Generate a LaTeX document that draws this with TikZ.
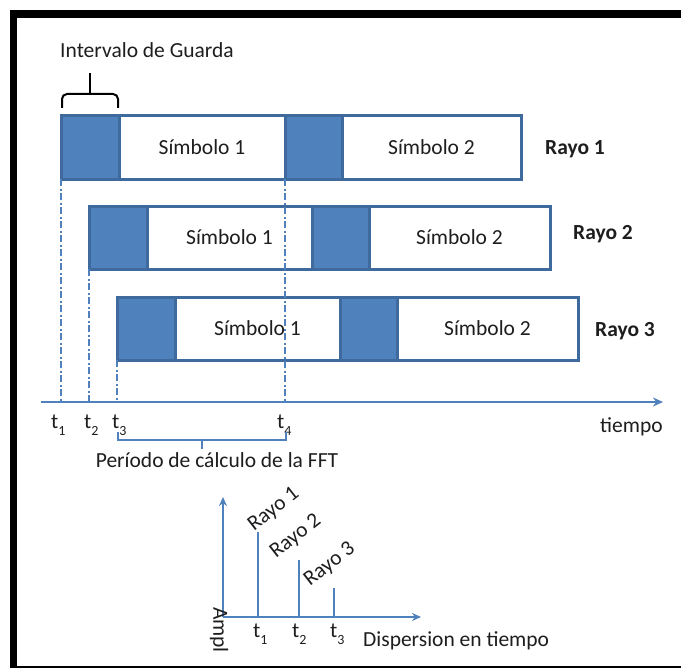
\documentclass[tikz,border=0pt]{standalone}
\usepackage{fontspec}
\setmainfont{Carlito}
\usetikzlibrary{arrows.meta}
\definecolor{fillblue}{HTML}{4F81BD}
\definecolor{edgeblue}{HTML}{3F6A9E}
\definecolor{lineblue}{HTML}{4F81BD}
\definecolor{ink}{HTML}{1E1E1E}
% time label with a lowered index digit
\newcommand{\tsub}[1]{t\raisebox{-7pt}{\fontsize{14}{14}\selectfont #1}}

\begin{document}
\begin{tikzpicture}[x=1pt,y=-1pt,
  font=\fontsize{21.5}{24}\selectfont, text=ink,
  cell/.style={draw=edgeblue, line width=3pt, minimum height=63pt,
    inner sep=0pt, outer sep=0pt, anchor=north west},
  guard/.style={cell, fill=fillblue},
  sym/.style={cell, fill=white},
  ray/.style={font=\fontsize{21.5}{24}\selectfont\bfseries, anchor=base west, inner sep=0pt},
  lbl/.style={anchor=base west, inner sep=0pt},
  tickline/.style={lineblue, line width=2pt,
    dash pattern=on 7pt off 2.5pt on 2pt off 2.5pt},
  axis/.style={lineblue, line width=1.6pt, -{Stealth[length=10pt,width=9pt]}},
  smallaxis/.style={lineblue, line width=2pt, -{Stealth[length=9pt,width=8pt]}},
  spike/.style={lineblue, line width=2pt},
]
% page and frame
\fill[white] (0,0) rectangle (681,669);
\useasboundingbox (0,0) rectangle (681,669);
\fill[black] (10,10.5) rectangle (681,18.5);
\fill[black] (10,10.5) rectangle (17,668);
\fill[black] (10,665.5) rectangle (681,668);

% ray 1
\node[guard, minimum width=58pt] (g11) at (61,116) {};
\node[sym, minimum width=166pt] (s11) at (g11.north east) {Símbolo 1};
\node[guard, minimum width=57pt] (g12) at (s11.north east) {};
\node[sym, minimum width=179pt] (s12) at (g12.north east) {Símbolo 2};
\node[ray] (r1) at (545,154) {Rayo 1};

% ray 2
\node[guard, minimum width=58pt] (g21) at (89,206) {};
\node[sym, minimum width=165pt] (s21) at (g21.north east) {Símbolo 1};
\node[guard, minimum width=57pt] (g22) at (s21.north east) {};
\node[sym, minimum width=181pt] (s22) at (g22.north east) {Símbolo 2};
\node[ray] (r2) at (573,239) {Rayo 2};

% ray 3
\node[guard, minimum width=58pt] (g31) at (117,297) {};
\node[sym, minimum width=165pt] (s31) at (g31.north east) {Símbolo 1};
\node[guard, minimum width=57pt] (g32) at (s31.north east) {};
\node[sym, minimum width=181pt] (s32) at (g32.north east) {Símbolo 2};
\node[ray] (r3) at (595,336) {Rayo 3};

% time axis
\coordinate (a0) at (41,402);
\coordinate (a1) at (663,402);
\coordinate (t1) at (61,402);
\coordinate (t2) at (89,402);
\coordinate (t3) at (117,402);
\coordinate (t4) at (285,402);
\draw[axis] (a0) -- (a1);
\node[lbl] (tiempo) at (600,432) {tiempo};

% instants
\draw[tickline, line width=1.6pt] (g11.south west) -- (t1);
\draw[tickline, line width=1.6pt] (g21.south west) -- (t2);
\draw[tickline, line width=2.5pt] (g31.south west) -- (t3);
\draw[tickline, line width=2.5pt] (g12.south west) -- (t4);
\node[lbl] (lt1) at (51,428) {\tsub{1}};
\node[lbl] (lt2) at (84,428) {\tsub{2}};
\node[lbl] (lt3) at (112,428) {\tsub{3}};
\node[lbl] (lt4) at (277,428) {\tsub{4}};

% FFT window
\coordinate (b0) at (118,432);
\coordinate (b1) at (286,432);
\coordinate (bm) at (202,440);
\coordinate (bt) at (202,449);
\draw[lineblue, line width=1.6pt] (b0) -- ++(0,8) -| (b1);
\draw[lineblue, line width=1.6pt] (bm) -- (bt);
\node[anchor=base, inner sep=0pt] (fft) at (217,467) {Período de cálculo de la FFT};

% guard interval brace
\coordinate (c0) at (62,108);
\coordinate (c1) at (118,108);
\coordinate (cm) at (90,94);
\coordinate (ct) at (90,73);
\draw[black, line width=2pt, rounded corners=5pt] (c0) |- (cm) -| (c1);
\draw[black, line width=2pt] (cm) -- (ct);
\node[anchor=base, inner sep=0pt] (gi) at (147,58) {Intervalo de Guarda};

% delay spread chart
\coordinate (o) at (223,617);
\coordinate (vy) at (223,497);
\coordinate (vx) at (421,617);
\draw[smallaxis] (o) -- (vy);
\draw[smallaxis] (o) -- (vx);
\coordinate (q1) at (258,617); \coordinate (p1) at (258,532);
\coordinate (q2) at (299,617); \coordinate (p2) at (299,560);
\coordinate (q3) at (334,617); \coordinate (p3) at (334,588);
\draw[spike] (q1) -- (p1);
\draw[spike] (q2) -- (p2);
\draw[spike] (q3) -- (p3);
\node[lbl, rotate=38] (k1) at (254,532) {Rayo 1};
\node[lbl, rotate=38] (k2) at (276,559) {Rayo 2};
\node[lbl, rotate=38] (k3) at (310,587) {Rayo 3};
\node[rotate=-90, inner sep=0pt] (amp) at (219,630) {Ampl};
\node[lbl] (m1) at (253,637) {\tsub{1}};
\node[lbl] (m2) at (292,637) {\tsub{2}};
\node[lbl] (m3) at (330,637) {\tsub{3}};
\node[lbl] (disp) at (363,646) {Dispersion en tiempo};
\end{tikzpicture}
\end{document}
